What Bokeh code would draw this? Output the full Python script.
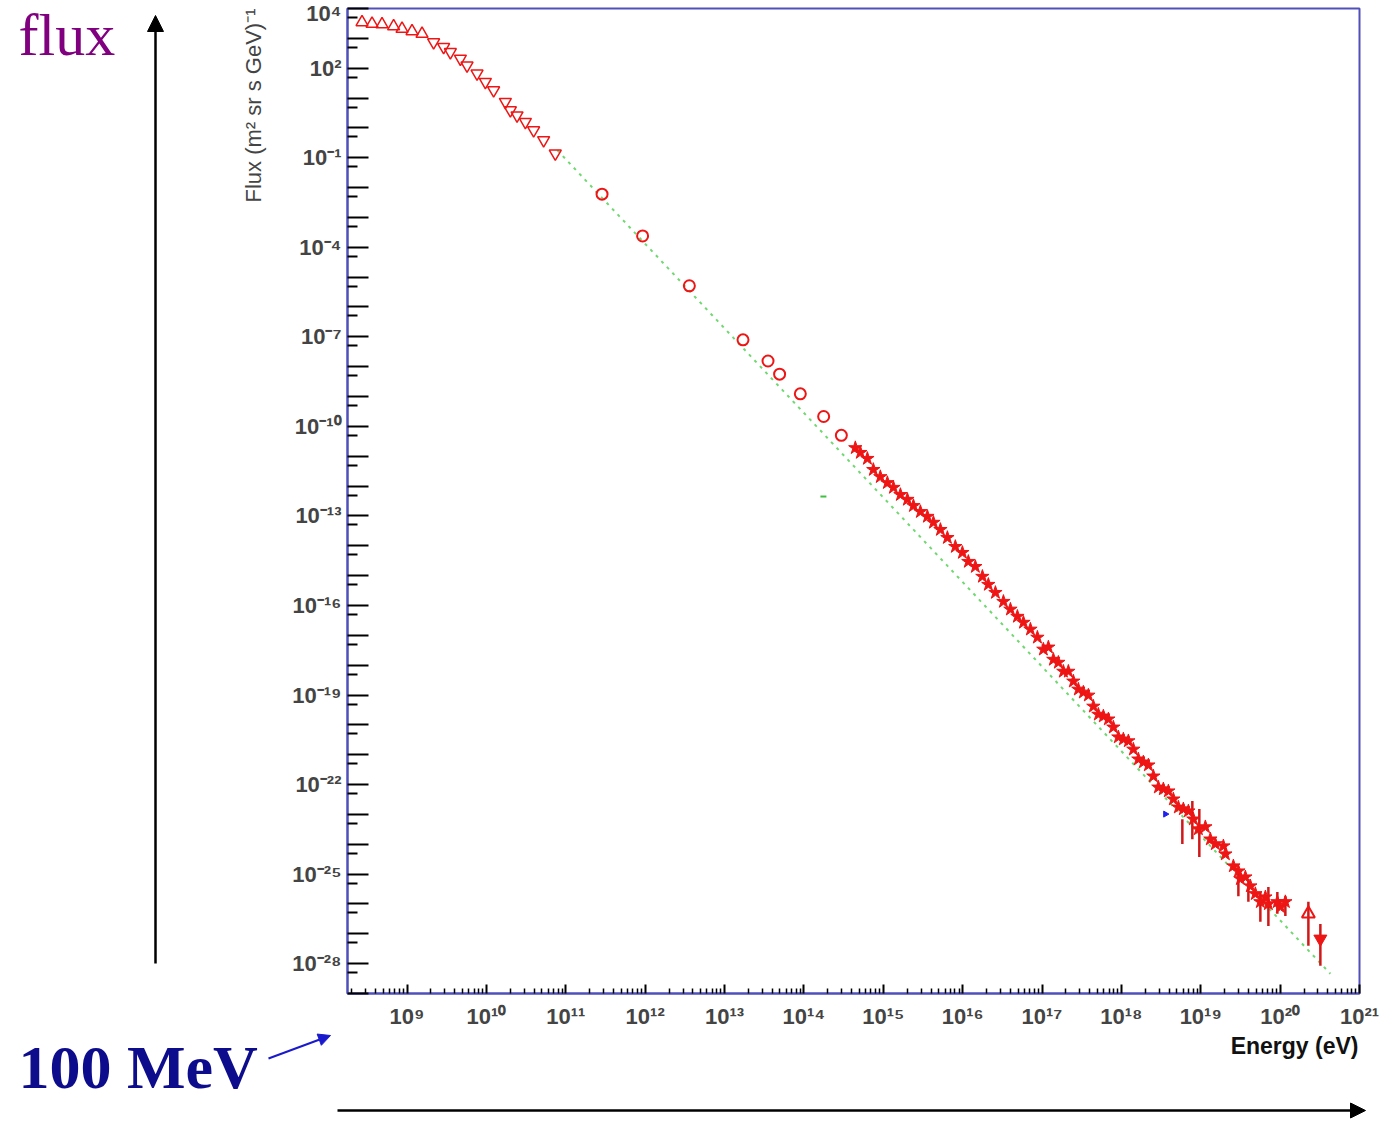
import math
from bokeh.plotting import figure
from bokeh.layouts import column, row
from bokeh.models import FixedTicker, Label, Arrow, NormalHead, Range1d, Title
from bokeh.embed import file_html
from bokeh.resources import INLINE

# ---------------- data (log10 values) ----------------
tri_up_logE = [8.433, 8.559, 8.685, 8.831, 8.937, 9.063, 9.189]
tri_up_logF = [3.54, 3.49, 3.47, 3.40, 3.32, 3.24, 3.15]
tri_dn_logE = [9.335, 9.461, 9.546, 9.672, 9.756, 9.882, 9.987, 10.091, 10.239,
               10.302, 10.386, 10.491, 10.595, 10.721, 10.868]
tri_dn_logF = [2.87, 2.71, 2.54, 2.32, 2.09, 1.82, 1.54, 1.26, 0.87,
               0.59, 0.42, 0.20, -0.08, -0.41, -0.86]

circ_logE = [11.457, 11.968, 12.557, 13.233, 13.548, 13.694, 13.955, 14.249, 14.472]
circ_logF = [-2.22, -3.62, -5.29, -7.10, -7.81, -8.25, -8.91, -9.67, -10.30]

star_logE = [14.648, 14.711, 14.800, 14.875, 14.963, 15.052, 15.128, 15.216, 15.304,
             15.380, 15.468, 15.556, 15.632, 15.720, 15.808, 15.908, 15.997, 16.072,
             16.160, 16.249, 16.324, 16.413, 16.514, 16.602, 16.690, 16.766, 16.854,
             16.942, 17.017, 17.143, 17.269, 17.395, 17.521, 17.647, 17.773, 17.899,
             18.025, 18.151, 18.277, 18.403, 18.529, 18.655, 18.781, 18.907, 19.121,
             19.285, 19.411, 19.499, 19.625, 19.751, 19.852, 19.965, 20.066]
star_logF = [-10.72, -10.88, -11.08, -11.45, -11.69, -11.89, -12.05, -12.29, -12.45,
             -12.66, -12.86, -13.02, -13.22, -13.46, -13.73, -14.03, -14.23, -14.53,
             -14.70, -15.03, -15.30, -15.57, -15.87, -16.13, -16.37, -16.57, -16.80,
             -17.07, -17.47, -17.81, -18.21, -18.54, -18.91, -19.38, -19.71, -20.08,
             -20.48, -20.82, -21.25, -21.72, -22.15, -22.49, -22.82, -23.16, -23.83,
             -24.06, -24.73, -25.16, -25.40, -25.93, -26.00, -25.93, -25.93]
star2_logE = [17.080, 17.206, 17.332, 17.458, 17.584, 17.710, 17.836, 17.962, 18.088,
              18.214, 18.340, 18.466, 18.592, 18.718, 18.844, 18.970, 19.058, 19.184,
              19.310, 19.474, 19.562, 19.688, 19.814, 20.003]
star2_logF = [-17.40, -17.91, -18.21, -18.81, -19.01, -19.65, -19.81, -20.41, -20.54,
              -21.15, -21.35, -22.09, -22.22, -22.76, -22.89, -23.49, -23.42, -23.99,
              -24.33, -24.90, -25.10, -25.66, -25.77, -26.10]

err_logE = [18.768, 18.894, 18.982, 19.474, 19.600, 19.751, 19.852, 19.965, 20.066,
            20.356, 20.507]
err_hi = [-23.16, -22.55, -22.82, -24.93, -25.16, -25.60, -25.43, -25.60, -25.74,
          -25.93, -26.67]
err_lo = [-23.99, -23.83, -24.43, -25.74, -25.93, -26.60, -26.74, -26.33, -26.40,
          -27.40, -28.07]

hi_tri_logE = [20.356]
hi_tri_logF = [-26.33]
hi_fill_logE = [20.507]
hi_fill_logF = [-27.17]

blue_logE = [18.555]
blue_logF = [-22.99]
green_logE = [14.246]
green_logF = [-12.35]

fit_logE = [10.894, 20.633]
fit_logF = [-0.749, -28.34]

x_label_exps = list(range(9, 22))
y_label_exps = [4, 2, -1, -4, -7, -10, -13, -16, -19, -22, -25, -28]

def p10(v):
    return [10.0 ** a for a in v]

SUP = str.maketrans("0123456789-", "⁰¹²³⁴⁵⁶⁷⁸⁹⁻")
def lab(k):
    return "10" + str(k).translate(SUP)

RED = "#ee1515"
BLUE = "#5050bb"
FONT = "Liberation Sans"

W, H = 1392, 1142
LW = 200          # width of the left annotation strip
TOPH = 1031       # height of the top row
FL, FT, FR, FB = 347, 8, 1359, 995   # chart frame edges in the page

# ---------------- main chart ----------------
p = figure(width=W - LW, height=TOPH, x_axis_type="log", y_axis_type="log",
           x_range=Range1d(10 ** 8.25, 10 ** 21), y_range=Range1d(1e-29, 1e4),
           output_backend="svg", toolbar_location=None,
           min_border_left=FL - LW, min_border_right=W - FR,
           min_border_top=FT, min_border_bottom=TOPH - FB)
p.grid.visible = False
p.outline_line_color = BLUE
p.outline_line_width = 2

xt = [10.0 ** k for k in range(9, 22)]
xminor = [m * 10.0 ** k for k in range(8, 21) for m in range(2, 10)]
p.xaxis.ticker = FixedTicker(ticks=xt, minor_ticks=xminor)
p.xaxis.major_label_overrides = {10.0 ** k: lab(k) for k in x_label_exps}
p.xaxis.major_tick_in = 9
p.xaxis.major_tick_out = 0
p.xaxis.minor_tick_in = 5
p.xaxis.minor_tick_out = 0
p.xaxis.axis_line_color = BLUE
p.xaxis.axis_line_width = 2
p.xaxis.major_tick_line_width = 2
p.xaxis.minor_tick_line_width = 1.5
p.xaxis.major_label_text_font = FONT
p.xaxis.major_label_text_font_size = "22px"
p.xaxis.major_label_text_font_style = "bold"
p.xaxis.major_label_standoff = 10

yt = [10.0 ** k for k in range(-29, 5)]
yminor = [5 * 10.0 ** k for k in range(-30, 4)]
p.yaxis.ticker = FixedTicker(ticks=yt, minor_ticks=yminor)
p.yaxis.major_label_overrides = {10.0 ** k: (lab(k) if k in y_label_exps else "")
                                 for k in range(-29, 5)}
p.yaxis.major_tick_in = 21
p.yaxis.major_tick_out = 0
p.yaxis.minor_tick_in = 10
p.yaxis.minor_tick_out = 0
p.yaxis.axis_line_color = BLUE
p.yaxis.axis_line_width = 2
p.yaxis.major_tick_line_width = 2
p.yaxis.minor_tick_line_width = 2
p.yaxis.major_label_text_font = FONT
p.yaxis.major_label_text_font_size = "22px"
p.yaxis.major_label_text_font_style = "bold"
p.yaxis.major_label_standoff = 6

p.add_layout(Title(text="Flux (m² sr s GeV)⁻¹", align="right", text_font=FONT,
                   text_font_size="22px", text_font_style="normal", standoff=47), "left")

p.line(p10(fit_logE), p10(fit_logF), line_color="#6fd86f", line_width=2, line_dash="3 5")
p.scatter(p10(tri_up_logE), p10(tri_up_logF), marker="triangle", size=12,
          fill_color=None, line_color=RED, line_width=1.5)
p.scatter(p10(tri_dn_logE), p10(tri_dn_logF), marker="inverted_triangle", size=12,
          fill_color=None, line_color=RED, line_width=1.5)
p.scatter(p10(circ_logE), p10(circ_logF), marker="circle", size=11,
          fill_color=None, line_color=RED, line_width=2)
p.segment(p10(err_logE), p10(err_hi), p10(err_logE), p10(err_lo),
          line_color="#d01818", line_width=2.5)
p.scatter(p10(star_logE), p10(star_logF), marker="star", size=14,
          fill_color=RED, line_color=RED, line_width=1)
p.scatter(p10(star2_logE), p10(star2_logF), marker="star", size=14,
          fill_color=RED, line_color=RED, line_width=1)
p.scatter(p10(hi_tri_logE), p10(hi_tri_logF), marker="triangle", size=13,
          fill_color=None, line_color=RED, line_width=2)
p.scatter(p10(hi_fill_logE), p10(hi_fill_logF), marker="inverted_triangle", size=13,
          fill_color=RED, line_color=RED, line_width=1)
p.scatter(p10(blue_logE), p10(blue_logF), marker="triangle", angle=-math.pi / 2,
          size=6, fill_color="#2020ee", line_color="#2020ee")
p.scatter(p10(green_logE), p10(green_logF), marker="dash", size=6,
          line_color="#40c040", line_width=2)

# ---------------- annotation strips (pixel-aligned ranges) ----------------
def strip(w, h, x0, x1, ytop, ybot):
    f = figure(width=w, height=h, x_range=Range1d(x0, x1), y_range=Range1d(ybot, ytop),
               output_backend="svg", toolbar_location=None, min_border=0,
               x_axis_location=None, y_axis_location=None)
    f.grid.visible = False
    f.outline_line_color = None
    return f

# the left strip's frame is aligned with the chart frame (rows align frames)
left = strip(LW, TOPH, 0, LW, FT, FB)
bottom = strip(W, H - TOPH, 0, W, TOPH, H)

def arrow(f, x0, y0, x1, y1, color, width, head):
    f.add_layout(Arrow(x_start=x0, y_start=y0, x_end=x1, y_end=y1,
                       line_color=color, line_width=width,
                       end=NormalHead(size=head, fill_color=color, line_color=color,
                                      line_width=1)))

left.add_layout(Label(x=18, y=35, text="flux", text_align="left",
                      text_baseline="middle", text_font="Liberation Serif",
                      text_font_size="60px", text_color="#800080"))
arrow(left, 155, 965, 155, 15, "black", 2.5, 16)

bottom.add_layout(Label(x=1358, y=1045, text="Energy (eV)", text_align="right",
                        text_baseline="middle", text_font=FONT,
                        text_font_size="23px", text_font_style="bold",
                        text_color="#111111"))
bottom.add_layout(Label(x=18, y=1066, text="100 MeV", text_align="left",
                        text_baseline="middle", text_font="Liberation Serif",
                        text_font_size="62px", text_font_style="bold",
                        text_color="#0c0c8c"))
arrow(bottom, 268, 1058, 330, 1035, "#1a1acc", 2, 12)
arrow(bottom, 337, 1110, 1365, 1110, "black", 2.5, 15)

layout = column(row(left, p), bottom)
open("out.html", "w").write(file_html(layout, INLINE))
